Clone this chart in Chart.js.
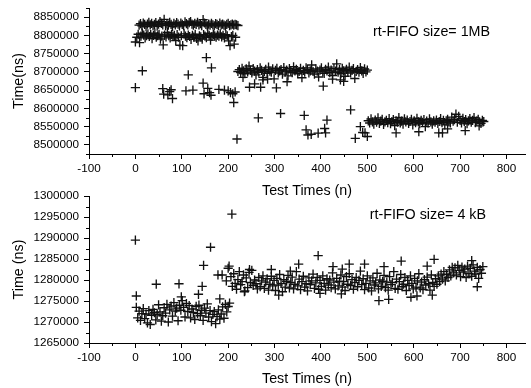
<!DOCTYPE html>
<html>
<head>
<meta charset="utf-8">
<script src="https://cdn.jsdelivr.net/npm/chart.js@4"></script>
<style>
  body { margin: 0; background: #fff; }
  #wrap { position: relative; width: 531px; height: 388px; overflow: hidden; }
  canvas { position: absolute; left: 0; }
  #top { top: -4px; }
  #bottom { top: 184px; }
</style>
</head>
<body>
<div id="wrap">
  <canvas id="top" width="531" height="204"></canvas>
  <canvas id="bottom" width="531" height="204"></canvas>
</div>
<script>
const font = 'Arial, "Liberation Sans", sans-serif';

// tick labels
const xTicks = [-100, 0, 100, 200, 300, 400, 500, 600, 700, 800];
const topYTicks = [8500000, 8550000, 8600000, 8650000, 8700000, 8750000, 8800000, 8850000];
const bottomYTicks = [1265000, 1270000, 1275000, 1280000, 1285000, 1290000, 1295000, 1300000];

// rt-FIFO 1MB, values in 1000 ns, one point every 3 tests
const topUpper = [ // from test 8
  8828, 8832, 8826, 8834, 8830, 8824, 8831, 8836, 8829, 8833,
  8827, 8830, 8835, 8825, 8831, 8838, 8833, 8829, 8844, 8827,
  8832, 8828, 8836, 8830, 8824, 8833, 8829, 8835, 8831, 8826,
  8834, 8830, 8827, 8837, 8832, 8829, 8835, 8838, 8831, 8828,
  8833, 8830, 8836, 8829, 8832, 8827, 8843, 8834, 8830, 8826,
  8831, 8828, 8833, 8829, 8826, 8832, 8830, 8827, 8834, 8829,
  8831, 8828, 8826, 8830, 8833, 8827, 8829, 8831, 8828, 8830,
  8829, 8827
];
const topLower = [ // from test 0
  8782, 8795, 8803, 8780, 8798, 8806, 8801, 8793, 8799, 8804,
  8797, 8802, 8791, 8800, 8806, 8795, 8799, 8803, 8790, 8798,
  8774, 8801, 8796, 8808, 8799, 8793, 8803, 8797, 8800, 8786,
  8802, 8795, 8773, 8799, 8772, 8804, 8798, 8794, 8801, 8797,
  8789, 8800, 8795, 8803, 8792, 8785, 8799, 8796, 8790, 8802,
  8798, 8794, 8806, 8800, 8787, 8797, 8803, 8799, 8795, 8801,
  8798, 8804, 8796, 8800, 8793, 8802, 8799, 8785, 8772, 8797,
  8800, 8776, 8795
];
const topMiddle = [ // from test 221
  8701, 8706, 8698, 8710, 8703, 8695, 8708, 8700, 8716, 8704,
  8697, 8709, 8702, 8692, 8706, 8699, 8711, 8704, 8685, 8701,
  8707, 8696, 8713, 8702, 8699, 8708, 8681, 8704, 8710, 8697,
  8703, 8706, 8694, 8712, 8700, 8705, 8689, 8709, 8702, 8698,
  8714, 8703, 8707, 8695, 8701, 8710, 8684, 8704, 8699, 8711,
  8706, 8697, 8703, 8719, 8701, 8694, 8708, 8702, 8686, 8705,
  8711, 8700, 8696, 8707, 8703, 8713, 8698, 8705, 8690, 8709,
  8702, 8722, 8699, 8706, 8695, 8710, 8703, 8688, 8707, 8700,
  8713, 8697, 8704, 8709, 8682, 8701, 8706, 8699, 8712, 8703,
  8696, 8708, 8700, 8705
];
const topLow = [ // from test 502
  8566, 8560, 8571, 8563, 8557, 8568, 8562, 8574, 8559, 8565,
  8570, 8556, 8563, 8567, 8561, 8572, 8558, 8564, 8569, 8553,
  8566, 8562, 8575, 8560, 8565, 8557, 8571, 8563, 8568, 8559,
  8564, 8570, 8555, 8566, 8561, 8573, 8563, 8558, 8567, 8562,
  8569, 8550, 8565, 8560, 8571, 8563, 8557, 8566, 8562, 8568,
  8559, 8564, 8572, 8561, 8567, 8555, 8566, 8570, 8563, 8560,
  8576, 8565, 8569, 8584, 8562, 8578, 8567, 8560, 8573, 8564,
  8569, 8558, 8566, 8572, 8562, 8567, 8575, 8561, 8565, 8570,
  8563, 8559, 8567, 8564
];
const topOutliers = [
  [0, 8657], [15, 8703], [59, 8654], [61, 8639], [70, 8637], [74, 8646], [77, 8651], [80, 8627],
  [109, 8648], [114, 8692], [124, 8650], [146, 8669], [148, 8640], [153, 8739], [156, 8655],
  [160, 8643], [163, 8636], [164, 8711], [180, 8652], [192, 8650], [200, 8648], [205, 8643],
  [210, 8640], [212, 8616], [215, 8645], [219, 8516], [232, 8685], [246, 8658], [257, 8667],
  [265, 8574], [270, 8658], [275, 8678], [285, 8680], [304, 8656], [313, 8586], [327, 8673],
  [364, 8581], [368, 8541], [372, 8527], [379, 8529], [394, 8532], [405, 8661], [408, 8545],
  [410, 8533], [413, 8568], [425, 8680], [442, 8678], [449, 8674], [464, 8596], [474, 8518],
  [485, 8550], [490, 8534], [495, 8533], [500, 8523], [562, 8533], [611, 8536], [654, 8533],
  [662, 8533], [673, 8544], [711, 8539], [741, 8552]
];

// rt-FIFO 4 kB, values in 1000 ns, one point every 3 tests
const bottomFirst = [ // from test 2
  1273.5, 1271.0, 1272.6, 1270.4, 1272.0, 1273.2, 1270.8, 1271.9, 1269.8, 1272.7,
  1269.4, 1271.6, 1273.0, 1272.2, 1270.5, 1271.8, 1274.1, 1272.4, 1270.2, 1271.5,
  1273.4, 1272.1, 1274.2, 1270.0, 1272.9, 1273.8, 1271.4, 1274.6, 1272.6, 1273.3,
  1270.3, 1274.0, 1272.8, 1275.1, 1273.5, 1271.2, 1274.4, 1272.5, 1273.9, 1271.0,
  1273.1, 1272.3, 1270.6, 1273.7, 1272.0, 1274.0, 1271.5, 1272.8, 1270.4, 1273.3,
  1272.1, 1274.3, 1271.2, 1272.7, 1270.1, 1271.8, 1272.5, 1269.6, 1271.3, 1272.9,
  1270.7, 1271.9, 1273.6, 1270.9, 1274.2, 1272.4, 1273.7, 1274.5
];
const bottomSecond = [ // from test 206
  1280.8, 1278.5, 1281.5, 1279.2, 1277.8, 1280.1, 1282.0, 1278.9, 1279.6, 1281.2,
  1277.4, 1280.5, 1278.2, 1281.8, 1279.4, 1282.3, 1278.7, 1280.0, 1279.1, 1277.9,
  1280.6, 1278.4, 1279.8, 1281.0, 1278.0, 1279.5, 1280.3, 1277.6, 1279.0, 1280.9,
  1278.6, 1279.9, 1277.5, 1280.4, 1278.8, 1281.3, 1279.2, 1277.2, 1280.1, 1278.3,
  1279.7, 1281.1, 1278.1, 1279.4, 1280.7, 1277.9, 1279.0, 1282.0, 1278.6, 1280.2,
  1277.7, 1279.6, 1280.9, 1278.3, 1279.1, 1277.4, 1280.5, 1278.9, 1279.8, 1281.4,
  1278.0, 1279.3, 1280.6, 1277.8, 1279.9, 1278.5, 1281.0, 1279.2, 1277.6, 1280.3,
  1278.8, 1280.0, 1278.2, 1281.7, 1279.5, 1277.9, 1280.4, 1278.6, 1279.7, 1281.2,
  1278.3, 1279.6, 1277.5, 1280.8, 1279.0, 1281.5, 1278.7, 1280.1, 1277.8, 1279.4,
  1280.6, 1278.4, 1279.9, 1282.1, 1278.9, 1280.3, 1277.7, 1279.2, 1281.0, 1278.1,
  1279.8, 1277.4, 1280.5, 1278.8, 1279.3, 1281.6, 1277.9, 1280.0, 1278.5, 1279.7,
  1281.1, 1278.2, 1279.5, 1277.6, 1280.8, 1278.9, 1279.4, 1282.0, 1278.0, 1280.2,
  1277.8, 1279.6, 1281.3, 1278.4, 1279.0, 1280.6, 1277.5, 1279.9, 1278.7, 1281.0,
  1279.2, 1277.9, 1280.4, 1278.3, 1279.8, 1281.5, 1278.1, 1279.5, 1277.7, 1280.1,
  1278.8, 1280.7, 1279.1, 1277.6, 1281.2, 1279.4, 1278.5, 1280.3, 1279.0, 1281.0,
  1279.6, 1281.4, 1280.2, 1282.0, 1279.8, 1281.3, 1280.6, 1282.4, 1281.0, 1283.0,
  1281.7, 1282.9, 1281.2, 1283.5, 1282.3, 1280.8, 1283.1, 1281.9, 1282.6, 1280.6,
  1283.3, 1281.5, 1282.8, 1280.9, 1283.6, 1282.1, 1281.4, 1283.0, 1280.4, 1282.5,
  1281.6, 1283.2
];
const bottomOutliers = [
  [0, 1289.5], [2, 1276.2], [45, 1279.0], [94, 1279.1], [99, 1276.0], [136, 1276.6], [144, 1278.5],
  [147, 1283.5], [162, 1287.8], [178, 1281.2], [182, 1275.5], [187, 1281.2], [196, 1279.8],
  [200, 1282.8], [202, 1283.3], [208, 1295.7], [235, 1277.2], [246, 1282.5], [293, 1282.5],
  [309, 1276.4], [334, 1282.1], [352, 1283.8], [394, 1285.8], [398, 1276.8], [426, 1283.2],
  [444, 1276.7], [446, 1282.6], [461, 1283.8], [494, 1283.8], [525, 1275.1], [536, 1283.2],
  [546, 1275.4], [573, 1284.5], [594, 1275.9], [607, 1276.2], [629, 1283.3], [640, 1276.4],
  [644, 1284.9], [725, 1284.6], [737, 1278.4]
];

function run(start, vals) {
  return vals.map((v, i) => ({ x: start + i * 3, y: Math.round(v * 1000) }));
}
function pairs(list) {
  return list.map(([x, v]) => ({ x, y: Math.round(v * 1000) }));
}

// short outward ticks between the labelled ones
const minorTicks = {
  id: 'minorTicks',
  afterDraw(chart, args, o) {
    const { ctx, chartArea: a, scales: { x, y } } = chart;
    ctx.save();
    ctx.strokeStyle = '#000';
    ctx.lineWidth = 1;
    ctx.beginPath();
    for (let v = x.min; v <= x.max; v += o.x) {
      if (xTicks.includes(v)) continue;
      const px = Math.round(x.getPixelForValue(v)) + 0.5;
      ctx.moveTo(px, a.bottom);
      ctx.lineTo(px, a.bottom + 3);
    }
    for (let v = y.min; v <= y.max; v += o.y) {
      if (o.major.includes(v)) continue;
      const py = Math.round(y.getPixelForValue(v)) + 0.5;
      ctx.moveTo(a.left, py);
      ctx.lineTo(a.left - 3, py);
    }
    ctx.stroke();
    ctx.restore();
  }
};

const note = {
  id: 'note',
  afterDraw(chart, args, o) {
    const { ctx, scales: { x, y } } = chart;
    ctx.save();
    ctx.font = '14.3px ' + font;
    ctx.fillStyle = '#000';
    ctx.textBaseline = 'middle';
    ctx.fillText(o.text, x.getPixelForValue(o.x), y.getPixelForValue(o.y));
    ctx.restore();
  }
};

function makeChart(id, points, o) {
  const grid = { drawOnChartArea: false, tickLength: 5, tickColor: '#000', color: '#000', lineWidth: 1 };
  const tickFont = { family: font, size: 11.7 };
  const titleFont = { family: font, size: 14.3 };
  return new Chart(document.getElementById(id), {
    type: 'scatter',
    data: {
      datasets: [{
        data: points,
        pointStyle: 'cross',
        pointRadius: 4.6,
        borderColor: '#111',
        backgroundColor: '#111',
        borderWidth: 1.35
      }]
    },
    plugins: [minorTicks, note],
    options: {
      responsive: false,
      animation: false,
      events: [],
      layout: { padding: { top: 12, left: 0, right: 0, bottom: 0 } },
      plugins: {
        legend: { display: false },
        tooltip: { enabled: false },
        minorTicks: { x: 50, y: o.yMinor, major: o.yTicks },
        note: { text: o.note, x: o.noteX, y: o.noteY }
      },
      scales: {
        x: {
          type: 'linear',
          min: -100,
          max: 840,
          afterBuildTicks: s => { s.ticks = xTicks.map(v => ({ value: v })); },
          afterFit: s => { s.height = o.xHeight; },
          grid,
          border: { color: '#000', width: 1 },
          ticks: { color: '#000', font: tickFont, padding: 3, maxRotation: 0, autoSkip: false, callback: v => v },
          title: { display: true, text: 'Test Times (n)', color: '#000', font: titleFont, padding: 0 }
        },
        y: {
          min: o.yMin,
          max: o.yMax,
          afterBuildTicks: s => { s.ticks = o.yTicks.map(v => ({ value: v })); },
          afterFit: s => { s.width = 89; },
          grid,
          border: { color: '#000', width: 1 },
          ticks: { color: '#000', font: tickFont, padding: 5, autoSkip: false, callback: v => v },
          title: { display: true, text: o.yTitle, color: '#000', font: titleFont, padding: { top: 10, bottom: 0 } }
        }
      }
    }
  });
}

makeChart('top', [
  ...run(8, topUpper), ...run(0, topLower), ...run(221, topMiddle), ...run(502, topLow), ...pairs(topOutliers)
], {
  yMin: 8475000, yMax: 8875000, yTicks: topYTicks, yMinor: 25000, yTitle: 'Time(ns)', xHeight: 46,
  note: 'rt-FIFO size= 1MB', noteX: 512, noteY: 8810000
});

makeChart('bottom', [
  ...run(2, bottomFirst), ...run(206, bottomSecond), ...pairs(bottomOutliers)
], {
  yMin: 1265000, yMax: 1300000, yTicks: bottomYTicks, yMinor: 2500, yTitle: 'Time (ns)', xHeight: 45,
  note: 'rt-FIFO size= 4 kB', noteX: 505, noteY: 1295500
});
</script>
</body>
</html>
